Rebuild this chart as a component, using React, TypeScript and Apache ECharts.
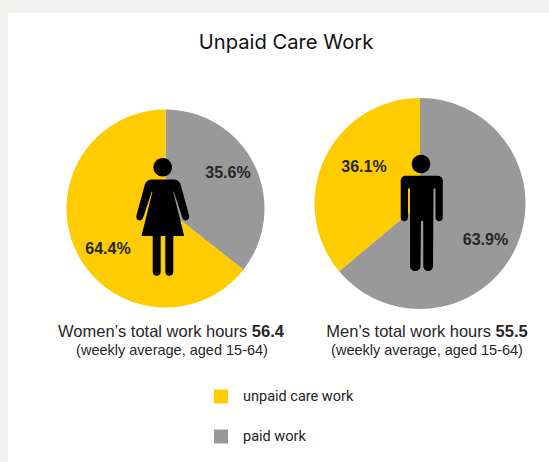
import React, { useEffect, useRef } from "react";
import * as echarts from "echarts";

const seriesNames = ["paid work", "unpaid care work"];
const legendOrder = ["unpaid care work", "paid work"];
const womenValues = [35.6, 64.4];
const menValues = [63.9, 36.1];
const chartTitle = "Unpaid Care Work";
const womenCaption = "Women’s total work hours";
const womenTotal = "56.4";
const menCaption = "Men’s total work hours";
const menTotal = "55.5";
const subCaption = "(weekly average, aged 15-64)";

const YELLOW = "#FFCC00";
const GRAY = "#999999";
const SANS = "'Liberation Sans', Arial, sans-serif";

const womanPath =
  "M152 179.5 L173.5 179.5 C177 179.5 179.5 181.5 180.5 184 L188.8 214.5 C189.8 218 188.5 219.8 186.5 220.3 C184.5 220.8 183 219.8 182 216.8 L173.8 191.5 L173.2 191.7 L184.2 236 L173.3 236 L173.3 271.5 C173.3 274.5 171.5 275.8 169.3 275.8 C167.1 275.8 165.3 274.5 165.3 271.5 L165.3 236 L160.7 236 L160.7 271.5 C160.7 274.5 158.9 275.8 156.7 275.8 C154.5 275.8 152.7 274.5 152.7 271.5 L152.7 236 L141.5 236 L152.4 191.7 L151.8 191.5 L143.5 216.8 C142.5 219.8 141 220.8 139 220.3 C137 219.8 135.7 218 136.7 214.5 L145 184 C146 181.5 148.5 179.5 152 179.5 Z";

const manPath =
  "M405.5 175.7 L437.5 175.7 C440.8 175.7 442.8 178 442.8 181 L442.8 217.5 C442.8 220 441 221.2 439.3 221.2 C437.5 221.2 435.5 220 435.5 217.5 L435.5 188.5 L433.5 188.5 L433 266 C433 269.5 430.5 271 428.2 271 C425.8 271 423.3 269.5 423.3 266 L423.2 221 L421 221 L420.5 266 C420.5 269.5 418 271 415.2 271 C412.5 271 410 269.5 410 266 L410 188.5 L408 188.5 L408 217.5 C408 220 406 221.2 404.2 221.2 C402.5 221.2 400.7 220 400.7 217.5 L400.7 181 C400.7 178 402.5 175.7 405.5 175.7 Z";

const labelPositions = {
  women: [{ x: 228, y: 172 }, { x: 108, y: 248 }],
  men: [{ x: 485.5, y: 239 }, { x: 364, y: 166.5 }],
};

function toData(values: number[]) {
  return values.map((value, i) => ({
    value,
    name: seriesNames[i],
    itemStyle: { color: seriesNames[i] === "paid work" ? GRAY : YELLOW },
  }));
}

function pie(values: number[], center: number[], radius: number, positions: { x: number; y: number }[]) {
  return {
    type: "pie",
    silent: true,
    center,
    radius,
    startAngle: 90,
    clockwise: true,
    data: toData(values),
    label: {
      show: true,
      position: "inside",
      formatter: (p: any) => p.value.toFixed(1) + "%",
      fontFamily: SANS,
      fontSize: 16,
      fontWeight: "bold",
      color: "#262626",
      align: "center",
      verticalAlign: "middle",
    },
    labelLine: { show: false },
    labelLayout: (p: any) => ({ x: positions[p.dataIndex].x, y: positions[p.dataIndex].y, align: "center", verticalAlign: "middle" }),
  };
}

function caption(text: string, total: string, left: number, top: number) {
  return {
    text: `${text} {b|${total}}`,
    left,
    top,
    padding: 0,
    textAlign: "center",
    textStyle: {
      fontFamily: SANS,
      fontSize: 16.5,
      fontWeight: "normal",
      color: "#262626",
      rich: { b: { fontFamily: SANS, fontSize: 16.5, fontWeight: "bold", color: "#262626" } },
    },
  };
}

function sub(left: number, top: number) {
  return {
    text: subCaption,
    left,
    top,
    padding: 0,
    textAlign: "center",
    textStyle: { fontFamily: SANS, fontSize: 14.5, fontWeight: "normal", color: "#262626" },
  };
}

export default function App() {
  const ref = useRef<HTMLDivElement>(null);

  useEffect(() => {
    echarts.graphic.registerShape("womanIcon", echarts.graphic.extendPath(womanPath, {}) as any);
    echarts.graphic.registerShape("manIcon", echarts.graphic.extendPath(manPath, {}) as any);
    const chart = echarts.init(ref.current!, null, { renderer: "svg" });
    chart.setOption({
      animation: false,
      backgroundColor: "#F2F3F1",
      title: [
        {
          text: chartTitle,
          left: 286,
          top: 31,
          padding: 0,
          textAlign: "center",
          textStyle: { fontFamily: "Inter, sans-serif", fontSize: 20.2, fontWeight: "normal", color: "#111111" },
        },
        caption(womenCaption, womenTotal, 171, 322),
        sub(172, 342.5),
        caption(menCaption, menTotal, 427, 322),
        sub(427, 342.5),
      ],
      legend: {
        orient: "vertical",
        left: 209,
        top: 384,
        itemWidth: 14,
        itemHeight: 14,
        itemGap: 25,
        icon: "rect",
        selectedMode: false,
        data: legendOrder,
        textStyle: { fontFamily: "Roboto, sans-serif", fontSize: 14.5, color: "#222222", padding: [0, 0, 0, 10] },
      },
      series: [
        pie(womenValues, [165.5, 208.5], 99, labelPositions.women),
        pie(menValues, [420, 203.5], 105.5, labelPositions.men),
      ],
      graphic: [
        { type: "rect", z: -10, silent: true, shape: { x: 8, y: 13, width: 541, height: 449 }, style: { fill: "#FFFFFF" } },
        { type: "circle", z: 100, silent: true, shape: { cx: 162.7, cy: 167.3, r: 9.3 }, style: { fill: "#000000" } },
        { type: "womanIcon", z: 100, silent: true, x: 0, y: 0, style: { fill: "#000000" } },
        { type: "circle", z: 100, silent: true, shape: { cx: 421, cy: 164, r: 9.3 }, style: { fill: "#000000" } },
        { type: "manIcon", z: 100, silent: true, x: 0, y: 0, style: { fill: "#000000" } },
      ],
    });
    return () => chart.dispose();
  }, []);

  return <div ref={ref} style={{ position: "fixed", left: 0, top: 0, width: 549, height: 462 }} />;
}
